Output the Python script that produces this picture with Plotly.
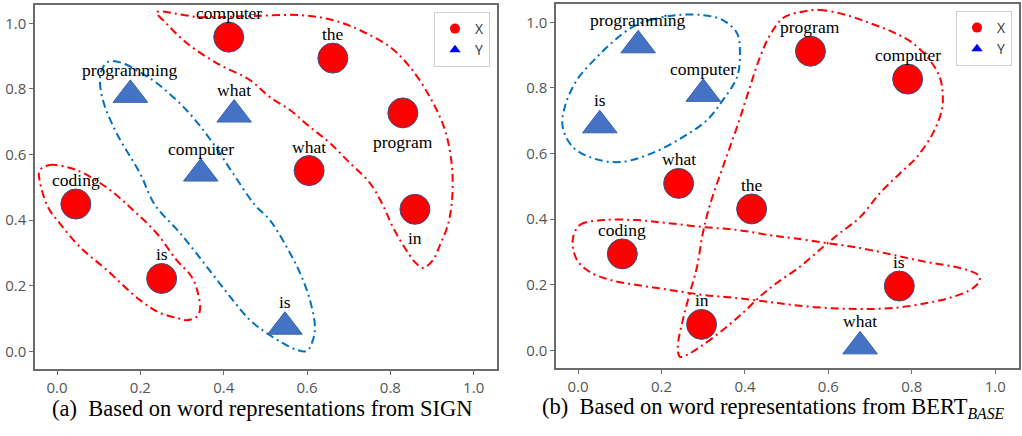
import plotly.graph_objects as go

# ---------------- data: panel (a) SIGN ----------------
sign_x_words = ["computer", "the", "program", "what", "in", "coding", "is"]
sign_x_x = [0.412, 0.662, 0.830, 0.605, 0.859, 0.045, 0.251]
sign_x_y = [0.958, 0.894, 0.727, 0.551, 0.433, 0.449, 0.222]
sign_x_below = [False, False, True, False, True, False, False]

sign_y_words = ["programming", "what", "computer", "is"]
sign_y_x = [0.176, 0.425, 0.345, 0.547]
sign_y_y = [0.782, 0.722, 0.542, 0.075]

# ---------------- data: panel (b) BERT_BASE ----------------
bert_x_words = ["program", "computer", "what", "the", "coding", "in", "is"]
bert_x_x = [0.557, 0.790, 0.241, 0.416, 0.106, 0.296, 0.770]
bert_x_y = [0.912, 0.827, 0.509, 0.431, 0.294, 0.079, 0.196]
bert_x_below = [False] * 7

bert_y_words = ["programming", "computer", "is", "what"]
bert_y_x = [0.144, 0.300, 0.052, 0.676]
bert_y_y = [0.930, 0.782, 0.686, 0.012]

tick_vals = [0.0, 0.2, 0.4, 0.6, 0.8, 1.0]
tick_text = ["0.0", "0.2", "0.4", "0.6", "0.8", "1.0"]

legend_names = ["X", "Y"]
captions = ["(a)  Based on word representations from SIGN",
            "(b)  Based on word representations from BERT<sub><i>BASE</i></sub>"]

# ---------------- hand-drawn cluster outlines (data coords) ----------------
sign_red_small_x = [-0.042, -0.018, 0.023, 0.062, 0.127, 0.182, 0.239, 0.287, 0.323, 0.338, 0.343,
                    0.335, 0.311, 0.287, 0.247, 0.199, 0.119, 0.055, 0.006, -0.022, -0.042]
sign_red_small_y = [0.552, 0.568, 0.562, 0.544, 0.492, 0.431, 0.360, 0.278, 0.227, 0.178, 0.126,
                    0.105, 0.095, 0.102, 0.117, 0.156, 0.248, 0.318, 0.391, 0.440, 0.522]

sign_blue_x = [0.127, 0.163, 0.199, 0.239, 0.311, 0.374, 0.422, 0.475, 0.511, 0.551, 0.583, 0.607,
               0.619, 0.614, 0.600, 0.576, 0.542, 0.499, 0.463, 0.422, 0.360, 0.295, 0.235, 0.199,
               0.143, 0.110, 0.103, 0.112]
sign_blue_y = [0.885, 0.876, 0.851, 0.818, 0.735, 0.635, 0.543, 0.446, 0.400, 0.318, 0.239, 0.156,
               0.074, 0.034, 0.001, 0.004, 0.025, 0.059, 0.095, 0.156, 0.257, 0.361, 0.446, 0.543,
               0.665, 0.766, 0.836, 0.870]

sign_red_big_x = [0.239, 0.343, 0.463, 0.583, 0.662, 0.727, 0.799, 0.847, 0.895, 0.931, 0.948, 0.948,
                  0.938, 0.919, 0.902, 0.878, 0.859, 0.835, 0.806, 0.782, 0.751, 0.703, 0.655, 0.607,
                  0.559, 0.511, 0.463, 0.383, 0.311, 0.259]
sign_red_big_y = [1.034, 1.019, 1.022, 1.025, 1.010, 0.979, 0.928, 0.867, 0.775, 0.675, 0.562, 0.461,
                  0.385, 0.324, 0.278, 0.254, 0.272, 0.315, 0.379, 0.446, 0.513, 0.574, 0.635, 0.684,
                  0.736, 0.775, 0.827, 0.879, 0.940, 1.004]

bert_blue_x = [0.131, 0.172, 0.237, 0.299, 0.347, 0.381, 0.388, 0.381, 0.347, 0.309, 0.251, 0.179,
               0.100, 0.035, -0.013, -0.037, -0.032, -0.003, 0.045, 0.088]
bert_blue_y = [0.986, 1.007, 1.022, 1.022, 1.007, 0.967, 0.906, 0.833, 0.763, 0.702, 0.650, 0.602,
               0.574, 0.586, 0.620, 0.681, 0.742, 0.824, 0.894, 0.946]

bert_red_tall_x = [0.531, 0.579, 0.644, 0.699, 0.755, 0.802, 0.843, 0.867, 0.874, 0.872, 0.851, 0.812,
                   0.772, 0.724, 0.676, 0.628, 0.587, 0.531, 0.476, 0.435, 0.395, 0.347, 0.292, 0.261,
                   0.244, 0.239, 0.251, 0.268, 0.285, 0.299, 0.316, 0.347, 0.381, 0.412, 0.436, 0.460,
                   0.491]
bert_red_tall_y = [1.031, 1.038, 1.022, 0.998, 0.970, 0.937, 0.885, 0.833, 0.784, 0.733, 0.663, 0.589,
                   0.540, 0.480, 0.406, 0.358, 0.315, 0.254, 0.205, 0.163, 0.114, 0.062, 0.010, -0.014,
                   -0.020, 0.010, 0.092, 0.175, 0.254, 0.357, 0.443, 0.559, 0.681, 0.803, 0.894, 0.961,
                   1.013]

bert_red_wide_x = [-0.013, 0.004, 0.059, 0.141, 0.213, 0.299, 0.381, 0.460, 0.515, 0.596, 0.676, 0.755,
                   0.836, 0.916, 0.959, 0.963, 0.947, 0.899, 0.836, 0.755, 0.676, 0.596, 0.515, 0.460,
                   0.381, 0.299, 0.220, 0.141, 0.076, 0.028, -0.003]
bert_red_wide_y = [0.336, 0.382, 0.397, 0.397, 0.388, 0.376, 0.367, 0.351, 0.342, 0.327, 0.312, 0.291,
                   0.269, 0.251, 0.230, 0.215, 0.190, 0.163, 0.144, 0.129, 0.126, 0.129, 0.138, 0.147,
                   0.159, 0.169, 0.184, 0.199, 0.215, 0.239, 0.276]

# ---------------- styles ----------------
RED = "#FF0000"
BLUE_TRI = "#4472C4"
CURVE_RED = "#FF0000"
CURVE_BLUE = "#0070C0"
DASH = "8px,4px,2px,4px"
LABEL_FONT = dict(family="Liberation Serif, Times New Roman, serif", size=17.5, color="black")
CIRCLE_SHIFT_UP = 24
TRI_SHIFT_UP = 25
SHIFT_DOWN = -29

fig = go.Figure()
annotations = []


def add_curve(xs, ys, color, xa, ya):
    fig.add_trace(go.Scatter(
        x=list(xs) + [xs[0]], y=list(ys) + [ys[0]], mode="lines",
        line=dict(color=color, width=2, dash=DASH, shape="spline", smoothing=1.0),
        hoverinfo="skip", showlegend=False, xaxis=xa, yaxis=ya))


def add_labels(words, xs, ys, below, up_shift, xa, ya):
    for w, xv, yv, b in zip(words, xs, ys, below):
        annotations.append(dict(
            text=w, x=xv, y=yv, xref=xa, yref=ya, showarrow=False,
            xanchor="center", yanchor="middle",
            yshift=SHIFT_DOWN if b else up_shift, font=LABEL_FONT))


def add_panel(xw, xx, xy, xbelow, yw, yx, yy, xa, ya, legend):
    fig.add_trace(go.Scatter(
        x=xx, y=xy, mode="markers",
        marker=dict(symbol="circle", size=30, color=RED, line=dict(color="#2F528F", width=1)),
        showlegend=False, xaxis=xa, yaxis=ya))
    fig.add_trace(go.Scatter(
        x=yx, y=yy, mode="markers",
        marker=dict(symbol="triangle-up", size=30, color=BLUE_TRI, line=dict(color="#3A64AE", width=1)),
        showlegend=False, xaxis=xa, yaxis=ya))
    fig.add_trace(go.Scatter(
        x=[None], y=[None], mode="markers", name=legend_names[0],
        marker=dict(symbol="circle", size=10, color="#FF0000"),
        legend=legend, xaxis=xa, yaxis=ya))
    fig.add_trace(go.Scatter(
        x=[None], y=[None], mode="markers", name=legend_names[1],
        marker=dict(symbol="triangle-up", size=10, color="#0000FF"),
        legend=legend, xaxis=xa, yaxis=ya))
    add_labels(xw, xx, xy, xbelow, CIRCLE_SHIFT_UP, xa, ya)
    add_labels(yw, yx, yy, [False] * len(yw), TRI_SHIFT_UP, xa, ya)


# panel (a)
add_curve(sign_red_small_x, sign_red_small_y, CURVE_RED, "x", "y")
add_curve(sign_blue_x, sign_blue_y, CURVE_BLUE, "x", "y")
add_curve(sign_red_big_x, sign_red_big_y, CURVE_RED, "x", "y")
add_panel(sign_x_words, sign_x_x, sign_x_y, sign_x_below,
          sign_y_words, sign_y_x, sign_y_y, "x", "y", "legend")

# panel (b)
add_curve(bert_blue_x, bert_blue_y, CURVE_BLUE, "x2", "y2")
add_curve(bert_red_tall_x, bert_red_tall_y, CURVE_RED, "x2", "y2")
add_curve(bert_red_wide_x, bert_red_wide_y, CURVE_RED, "x2", "y2")
add_panel(bert_x_words, bert_x_x, bert_x_y, bert_x_below,
          bert_y_words, bert_y_x, bert_y_y, "x2", "y2", "legend2")

axis_common = dict(
    showline=True, mirror=True, linecolor="#6b6b6b", linewidth=1.5,
    ticks="outside", ticklen=4, tickcolor="#6b6b6b", tickwidth=1,
    showgrid=False, zeroline=False,
    tickvals=tick_vals, ticktext=tick_text,
    tickfont=dict(family="Open Sans", size=15, color="#555555"),
)

W, H = 1022, 436
legend_common = dict(
    xanchor="right", yanchor="top", bgcolor="white",
    bordercolor="#d0d0d0", borderwidth=1,
    font=dict(family="Open Sans", size=14, color="#333333"),
    tracegroupgap=0, itemwidth=30,
)

for i, cap in enumerate(captions):
    annotations.append(dict(
        text=cap, x=[262 / W, 773 / W][i], y=1 - 408 / H, xref="paper", yref="paper",
        showarrow=False, xanchor="center", yanchor="middle",
        font=dict(family="Liberation Serif", size=22.5, color="black")))

fig.update_layout(
    width=W, height=H,
    margin=dict(l=0, r=0, t=0, b=0),
    paper_bgcolor="white", plot_bgcolor="white",
    xaxis=dict(domain=[35 / W, 497 / W], range=[-0.053, 1.056], anchor="y", **axis_common),
    yaxis=dict(domain=[1 - 369 / H, 1 - 5 / H], range=[-0.054, 1.056], anchor="x", **axis_common),
    xaxis2=dict(domain=[556 / W, 1019 / W], range=[-0.053, 1.057], anchor="y2", **axis_common),
    yaxis2=dict(domain=[1 - 368 / H, 1 - 4 / H], range=[-0.054, 1.056], anchor="x2", **axis_common),
    legend=dict(x=490 / W, y=1 - 12 / H, **legend_common),
    legend2=dict(x=1012 / W, y=1 - 11 / H, **legend_common),
    annotations=annotations,
)

fig.write_html("out.html", config={"displayModeBar": False},
               post_script="document.body.style.margin='0';")
